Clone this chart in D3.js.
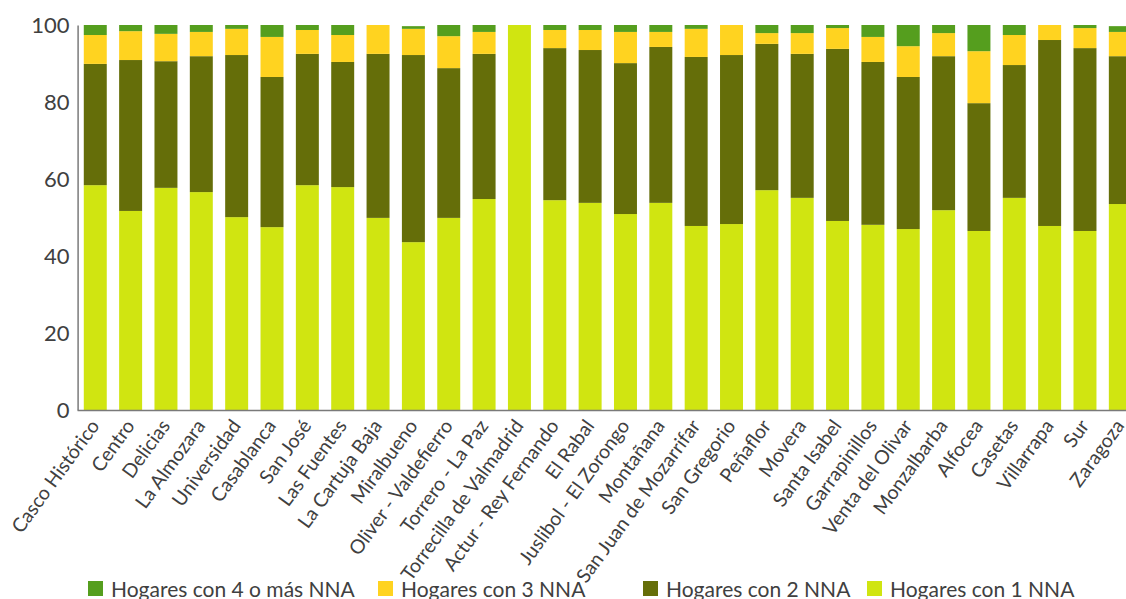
<!DOCTYPE html>
<html>
<head>
<meta charset="utf-8">
<script src="https://cdn.jsdelivr.net/npm/d3@7"></script>
<style>
  html, body { margin: 0; padding: 0; background: #fff; }
  svg { display: block; font-family: Lato, "Open Sans", sans-serif; }
</style>
</head>
<body>
<svg id="chart" width="1126" height="599"></svg>
<script>
const categories = ["Casco Histórico","Centro","Delicias","La Almozara","Universidad","Casablanca","San José","Las Fuentes","La Cartuja Baja","Miralbueno","Oliver - Valdefierro","Torrero - La Paz","Torrecilla de Valmadrid","Actur - Rey Fernando","El Rabal","Juslibol - El Zorongo","Montañana","San Juan de Mozarrifar","San Gregorio","Peñaflor","Movera","Santa Isabel","Garrapinillos","Venta del Olivar","Monzalbarba","Alfocea","Casetas","Villarrapa","Sur","Zaragoza"];
const seriesNames = ["Hogares con 1 NNA","Hogares con 2 NNA","Hogares con 3 NNA","Hogares con 4 o más NNA"];
const nna1 = [58.4,51.7,57.7,56.6,50.1,47.5,58.4,57.9,49.9,43.6,49.9,54.8,100,54.5,53.8,50.9,53.8,47.8,48.3,57.1,55.1,49.1,48.1,47.0,51.9,46.5,55.1,47.8,46.5,53.5];
const nna2 = [31.5,39.2,32.9,35.3,42.1,39.0,34.1,32.5,42.6,48.6,38.9,37.7,0,39.5,39.7,39.2,40.5,43.9,43.9,38.0,37.4,44.7,42.3,39.5,40.0,33.2,34.5,48.3,47.5,38.4];
const nna3 = [7.5,7.5,7.1,6.3,6.8,10.4,6.2,7.0,7.5,6.8,8.3,5.7,0,4.7,5.2,8.1,3.9,7.3,7.8,2.8,5.4,5.4,6.5,8.0,6.0,13.5,7.8,3.9,5.2,6.3];
const nna4 = [2.6,1.6,2.3,1.8,1.0,3.1,1.3,2.6,0,0.7,2.9,1.8,0,1.3,1.3,1.8,1.8,1.0,0,2.1,2.1,0.8,3.1,5.5,2.1,6.8,2.6,0,0.8,1.5];
const yTicks = [0,20,40,60,80,100];
const colors = ["#d0e511","#656e09","#ffd320","#559e1e"];

const rows = categories.map((c,i)=>({cat:c, s0:nna1[i], s1:nna2[i], s2:nna3[i], s3:nna4[i]}));
const keys = ["s0","s1","s2","s3"];
const stack = d3.stack().keys(keys)(rows);

const svg = d3.select("#chart");
const x = d3.scaleBand().domain(categories).range([77.6, 1138]).paddingInner(0.35).paddingOuter(0.175);
const y = d3.scaleLinear().domain([0,100]).range([410, 25]);

svg.append("g").selectAll("g").data(stack).join("g")
  .attr("fill",(d,i)=>colors[i])
  .selectAll("rect").data(d=>d).join("rect")
  .attr("x", d=>x(d.data.cat))
  .attr("width", x.bandwidth())
  .attr("y", d=>y(d[1]))
  .attr("height", d=>Math.max(0, y(d[0]) - y(d[1])));

// y axis
const yAxis = svg.append("g").attr("transform","translate(77.6,0)")
  .call(d3.axisLeft(y).tickValues(yTicks).tickSize(0).tickPadding(8));
yAxis.select(".domain").attr("stroke","#7a7a7a").attr("stroke-width",1.5);
yAxis.selectAll("text").attr("font-size",22).attr("fill","#404040").attr("font-family","Lato, sans-serif");

// x axis
const xAxis = svg.append("g").attr("transform","translate(0,410)")
  .call(d3.axisBottom(x).tickSize(0).tickPadding(0));
xAxis.select(".domain").attr("stroke","#7a7a7a").attr("stroke-width",1.5).attr("d","M77.6,0.5H1126");
xAxis.selectAll("text")
  .attr("font-size",19.5).attr("fill","#404040").attr("font-family","Lato, sans-serif")
  .attr("text-anchor","end")
  .attr("dy","0")
  .attr("transform","translate(5,16) rotate(-54)");

// legend
const legendItems = [
  {name: seriesNames[3], color: colors[3], x: 88},
  {name: seriesNames[2], color: colors[2], x: 378},
  {name: seriesNames[1], color: colors[1], x: 643},
  {name: seriesNames[0], color: colors[0], x: 867}
];
const lg = svg.append("g");
const li = lg.selectAll("g").data(legendItems).join("g")
  .attr("transform", d=>`translate(${d.x},0)`);
li.append("rect").attr("x",0).attr("y",581).attr("width",15).attr("height",15).attr("fill",d=>d.color);
li.append("text").attr("x",23).attr("y",597).attr("font-size",21).attr("fill","#404040")
  .attr("font-family","Lato, sans-serif").text(d=>d.name);
</script>
</body>
</html>
